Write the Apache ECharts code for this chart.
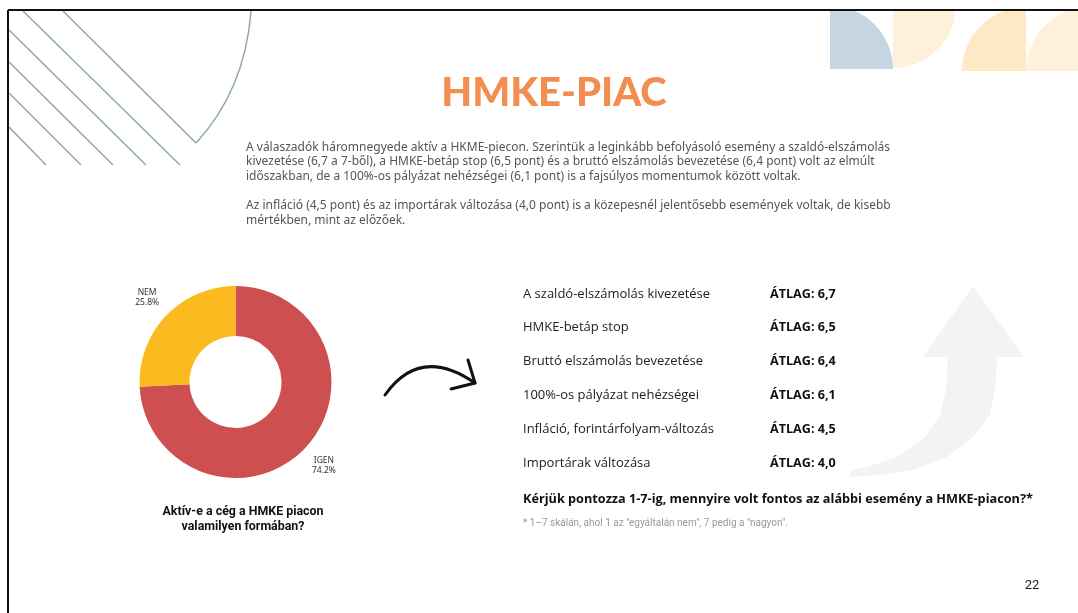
<!DOCTYPE html>
<html lang="hu">
<head>
<meta charset="UTF-8">
<title>HMKE-PIAC</title>
<style>
  html, body, #main {
    width: 100%;
    height: 100%;
    margin: 0;
    padding: 0;
    background: #fff;
  }
</style>
<script src="https://cdn.jsdelivr.net/npm/echarts@6/dist/echarts.min.js"></script>
</head>
<body>
<div id="main"></div>
<script>
  // Aktív-e a cég a HMKE piacon?
  const activeLabels = ['IGEN', 'NEM'];
  const activeShares = [74.2, 25.8];
  const activeColors = ['#CD4F4F', '#FBBA1D'];

  // események és átlagpontszám (1-7)
  const events = [
    'A szaldó-elszámolás kivezetése',
    'HMKE-betáp stop',
    'Bruttó elszámolás bevezetése',
    '100%-os pályázat nehézségei',
    'Infláció, forintárfolyam-változás',
    'Importárak változása'
  ];
  const averages = [6.7, 6.5, 6.4, 6.1, 4.5, 4.0];

  const introLines = [
    'A válaszadók háromnegyede aktív a HKME-piecon. Szerintük a leginkább befolyásoló esemény a szaldó-elszámolás',
    'kivezetése (6,7 a 7-ből), a HMKE-betáp stop (6,5 pont) és a bruttó elszámolás bevezetése (6,4 pont) volt az elmúlt',
    'időszakban, de a 100%-os pályázat nehézségei (6,1 pont) is a fajsúlyos momentumok között voltak.',
    '',
    'Az infláció (4,5 pont) és az importárak változása (4,0 pont) is a közepesnél jelentősebb események voltak, de kisebb',
    'mértékben, mint az előzőek.'
  ];

  const avgLabels = averages.map(v => 'ÁTLAG: ' + v.toFixed(1).replace('.', ','));
  const pieData = activeLabels.map((n, i) => ({ name: n, value: activeShares[i] }));

  var chart = echarts.init(document.getElementById('main'));

  const stripe = '#8FA8A8';
  const PI = Math.PI;

  function stripeLine(x1, y1, x2, y2) {
    return { type: 'line', shape: { x1, y1, x2, y2 }, style: { stroke: stripe, lineWidth: 1.5 } };
  }

  var option = {
    animation: false,
    color: activeColors,
    grid: { left: 523, right: 310, top: 277, height: 203 },
    xAxis: { type: 'value', min: 0, max: 7, show: false },
    yAxis: [
      {
        type: 'category',
        data: events,
        inverse: true,
        position: 'left',
        axisLine: { show: false },
        axisTick: { show: false },
        axisLabel: {
          inside: true,
          align: 'left',
          margin: 0,
          color: '#222',
          fontSize: 13,
          fontFamily: 'Open Sans'
        }
      },
      {
        type: 'category',
        data: avgLabels,
        inverse: true,
        position: 'right',
        axisLine: { show: false },
        axisTick: { show: false },
        axisLabel: {
          margin: 2,
          color: '#111',
          fontSize: 12.6,
          fontWeight: 'bold',
          fontFamily: 'Open Sans'
        }
      }
    ],
    series: [
      {
        type: 'pie',
        center: [235.5, 382],
        radius: [46, 96],
        startAngle: 90,
        clockwise: true,
        silent: true,
        label: { show: false },
        labelLine: { show: false },
        data: pieData
      },
      {
        // ghost ring that carries the slice labels
        type: 'pie',
        center: [235.5, 382],
        radius: [108, 130],
        startAngle: 90,
        clockwise: true,
        silent: true,
        percentPrecision: 1,
        itemStyle: { color: 'rgba(0,0,0,0)' },
        label: {
          position: 'inside',
          formatter: '{b}\n{d}%',
          color: '#333',
          fontSize: 8.5,
          lineHeight: 10,
          fontFamily: 'Noto Sans'
        },
        labelLine: { show: false },
        data: pieData
      },
      {
        type: 'scatter',
        yAxisIndex: 0,
        symbolSize: 0,
        silent: true,
        data: averages
      }
    ],
    graphic: [
      // big pale arrow
      {
        type: 'polygon', z: -1,
        shape: { points: [[973, 286], [1024, 357], [997, 357], [995, 390], [990, 415], [973, 437], [947, 457], [913, 470], [880, 475], [850, 477],
                          [850, 471], [870, 466], [897, 457], [925, 437], [940, 415], [946, 390], [948, 357], [923, 357]] },
        style: { fill: '#F3F3F3' }
      },
      // top-right quarter circles
      { type: 'sector', shape: { cx: 830, cy: 69, r: 63, startAngle: -PI / 2, endAngle: 0 }, style: { fill: '#C6D5E2' } },
      { type: 'sector', shape: { cx: 893, cy: 5, r: 63, startAngle: 0, endAngle: PI / 2 }, style: { fill: '#FEF0DB' } },
      { type: 'sector', shape: { cx: 1026, cy: 71, r: 64, startAngle: PI, endAngle: PI * 1.5 }, style: { fill: '#FEE9C6' } },
      { type: 'sector', shape: { cx: 1090, cy: 71, r: 64, startAngle: PI, endAngle: PI * 1.5 }, style: { fill: '#FEF0DB' } },
      // top-left stripes
      { type: 'polyline', shape: { points: [[63, 11], [196, 143]] }, style: { stroke: stripe, lineWidth: 1.5 } },
      { type: 'bezierCurve', shape: { x1: 196, y1: 143, cpx1: 245, cpy1: 90, x2: 251, y2: 11 }, style: { stroke: stripe, lineWidth: 1.5, fill: null } },
      stripeLine(23, 11, 180, 165),
      stripeLine(9, 30, 146, 165),
      stripeLine(9, 62, 113, 165),
      stripeLine(9, 93, 81, 165),
      stripeLine(9, 127, 46, 165),
      // white margin above the frame
      { type: 'rect', shape: { x: 0, y: 0, width: 1078, height: 9 }, style: { fill: '#fff' } },
      // slide frame
      { type: 'line', shape: { x1: 8, y1: 10, x2: 1078, y2: 10 }, style: { stroke: '#111', lineWidth: 2 } },
      { type: 'line', shape: { x1: 8, y1: 10, x2: 8, y2: 613 }, style: { stroke: '#111', lineWidth: 2 } },
      // hand drawn arrow
      { type: 'bezierCurve', shape: { x1: 385, y1: 395, cpx1: 420, cpy1: 345, x2: 475, y2: 383 }, style: { stroke: '#111', lineWidth: 3, fill: null, lineCap: 'round' } },
      { type: 'polyline', shape: { points: [[468, 360], [475, 383], [451, 389]] }, style: { stroke: '#111', lineWidth: 3, lineCap: 'round', lineJoin: 'round' } },
      // title
      { type: 'text', x: 554, y: 93, style: { text: 'HMKE-PIAC', fill: '#F28E50', font: '900 40px Lato', align: 'center', verticalAlign: 'middle' } },
      // intro paragraph
      { type: 'text', x: 246, y: 140, style: { text: introLines.join('\n'), fill: '#555', font: '12px "Noto Sans"', lineHeight: 14.6 } },
      // donut caption
      { type: 'text', x: 243, y: 519, style: { text: 'Aktív-e a cég a HMKE piacon\nvalamilyen formában?', fill: '#111', font: 'bold 12.4px Roboto', lineHeight: 15, align: 'center', verticalAlign: 'middle' } },
      // question + footnote
      { type: 'text', x: 523, y: 499, style: { text: 'Kérjük pontozza 1-7-ig, mennyire volt fontos az alábbi esemény a HMKE-piacon?*', fill: '#111', font: 'bold 12.7px "Open Sans"', verticalAlign: 'middle' } },
      { type: 'text', x: 523, y: 523, style: { text: '* 1–7 skálán, ahol 1 az "egyáltalán nem", 7 pedig a "nagyon".', fill: '#999', font: '10px Roboto', verticalAlign: 'middle' } },
      // page number
      { type: 'text', x: 1032, y: 586, style: { text: '22', fill: '#222', font: '13px Roboto', align: 'center', verticalAlign: 'middle' } }
    ]
  };

  chart.setOption(option);
</script>
</body>
</html>
